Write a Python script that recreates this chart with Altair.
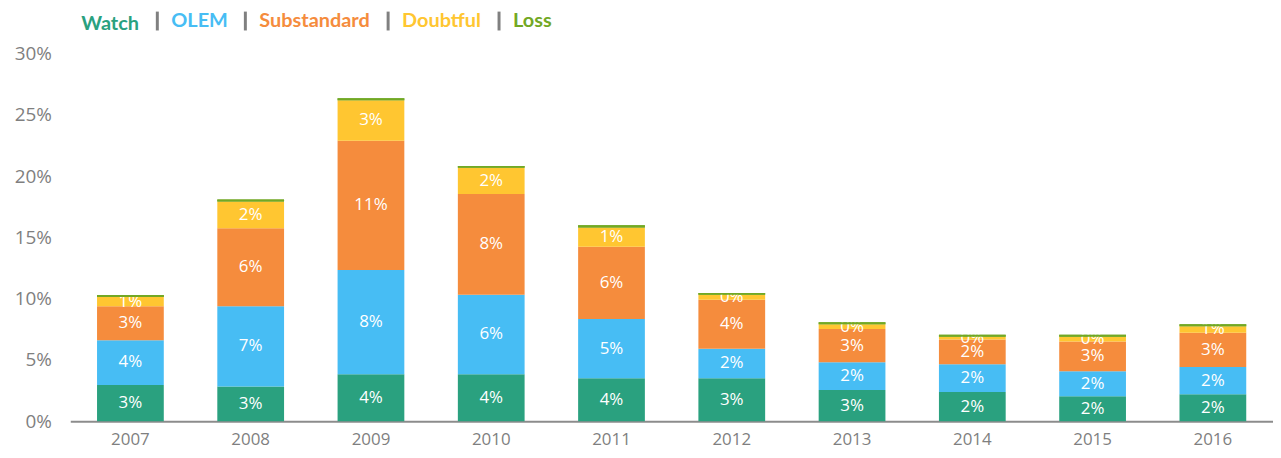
import altair as alt
import pandas as pd

years = ["2007", "2008", "2009", "2010", "2011", "2012", "2013", "2014", "2015", "2016"]
categories = ["Watch", "OLEM", "Substandard", "Doubtful", "Loss"]
colors = ["#2AA17F", "#47BDF4", "#F58C3D", "#FFC631", "#72A824"]

# values in percent
watch = [2.97, 2.84, 3.84, 3.84, 3.51, 3.51, 2.55, 2.39, 2.05, 2.21]
olem = [3.65, 6.54, 8.51, 6.48, 4.84, 2.41, 2.27, 2.27, 2.04, 2.21]
substandard = [2.76, 6.38, 10.55, 8.22, 5.89, 3.99, 2.72, 2.02, 2.43, 2.80]
doubtful = [0.76, 2.17, 3.30, 2.14, 1.57, 0.41, 0.38, 0.22, 0.38, 0.54]
loss = [0.16, 0.17, 0.16, 0.15, 0.19, 0.14, 0.16, 0.16, 0.16, 0.16]

# data labels as printed on the bars
watch_lbl = ["3%", "3%", "4%", "4%", "4%", "3%", "3%", "2%", "2%", "2%"]
olem_lbl = ["4%", "7%", "8%", "6%", "5%", "2%", "2%", "2%", "2%", "2%"]
substandard_lbl = ["3%", "6%", "11%", "8%", "6%", "4%", "3%", "2%", "3%", "3%"]
doubtful_lbl = ["1%", "2%", "3%", "2%", "1%", "0%", "0%", "0%", "0%", "1%"]
loss_lbl = ["", "", "", "", "", "", "", "", "", ""]

series = [watch, olem, substandard, doubtful, loss]
labels = [watch_lbl, olem_lbl, substandard_lbl, doubtful_lbl, loss_lbl]

rows = []
for ci, cat in enumerate(categories):
    for yi, yr in enumerate(years):
        rows.append({"year": yr, "category": cat, "order": ci,
                     "value": series[ci][yi], "label": labels[ci][yi]})
df = pd.DataFrame(rows)

label_color_expr = (
    "datum.value == 'Watch' ? '#2AA17F' : datum.value == 'OLEM' ? '#47BDF4' : "
    "datum.value == 'Substandard' ? '#F58C3D' : datum.value == 'Doubtful' ? '#FFC631' : '#72A824'"
)

base = alt.Chart(df).transform_window(
    cum="sum(value)", groupby=["year"], sort=[alt.SortField("order")],
    frame=[None, 0]
).transform_calculate(
    start="datum.cum - datum.value",
    mid="datum.cum - datum.value / 2"
)

x_enc = alt.X("year:O", title=None,
              scale=alt.Scale(paddingInner=0.445, paddingOuter=0.2225),
              axis=alt.Axis(labelAngle=0, ticks=False, domainColor="#8C8C8C",
                            domainWidth=2, labelColor="#7F7F7F", labelFontSize=17,
                            labelFont="Open Sans", labelPadding=10))
y_scale = alt.Scale(domain=[0, 30], nice=False, zero=True)

color_enc = alt.Color(
    "category:N",
    scale=alt.Scale(domain=categories, range=colors),
    legend=alt.Legend(
        orient="none", legendX=-14, legendY=-44, direction="horizontal",
        title=None, symbolType="M0,-1L0,1", symbolSize=360,
        symbolStrokeColor="#808080", symbolStrokeWidth=3,
        symbolOpacity={"expr": "datum.value == 'Watch' ? 0 : 1"},
        labelColor={"expr": label_color_expr},
        labelFont="Lato", labelFontWeight="bold", labelFontSize=20,
        labelOffset=3, columnPadding=6.5, labelLimit=400,
    ),
)

bars = base.mark_bar().encode(
    x=x_enc,
    y=alt.Y("start:Q", scale=y_scale, title=None,
            axis=alt.Axis(values=[0, 5, 10, 15, 20, 25, 30],
                          labelExpr="datum.value + '%'", domain=False, ticks=False,
                          grid=False, labelColor="#7F7F7F", labelFontSize=19,
                          labelFont="Open Sans", labelPadding=19)),
    y2="cum:Q",
    color=color_enc,
)

text = base.transform_filter("datum.label != ''").mark_text(
    color="white", fontSize=17, font="Open Sans", baseline="middle", align="center"
).encode(
    x=alt.X("year:O"),
    y=alt.Y("mid:Q", scale=y_scale),
    text="label:N",
)

loss_bars = base.transform_filter("datum.category == 'Loss'").mark_bar().encode(
    x=alt.X("year:O"),
    y=alt.Y("start:Q", scale=y_scale),
    y2="cum:Q",
    color=color_enc,
)

chart = alt.layer(bars, text, loss_bars).properties(
    width=1209, height=369.6,
    padding={"left": 62.6, "top": 44.7, "right": 0, "bottom": 26},
    autosize=alt.AutoSizeParams(type="none"),
).configure_view(stroke=None)

chart.save("out.html", embed_options={"renderer": "svg", "actions": False})
